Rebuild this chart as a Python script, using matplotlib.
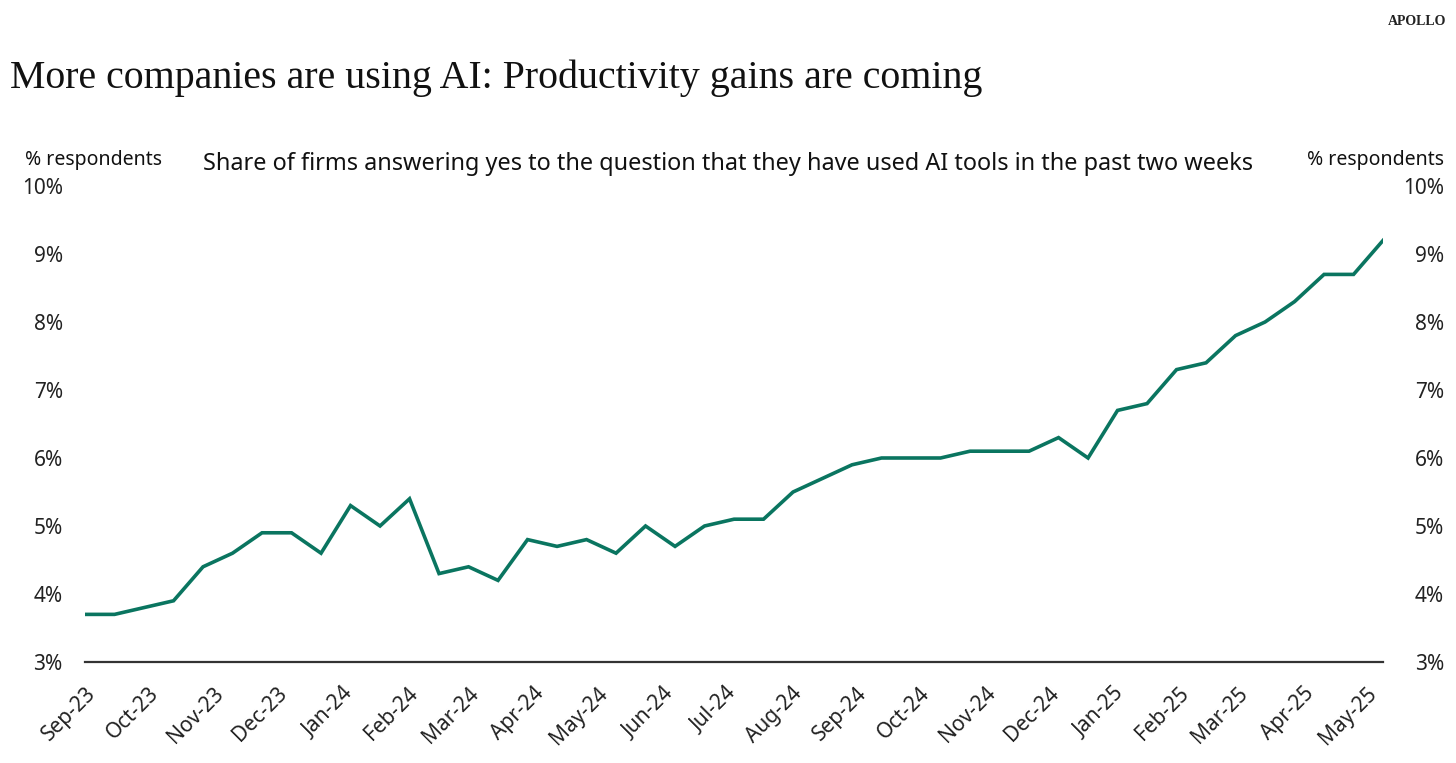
import pandas as pd
import matplotlib.pyplot as plt
import matplotlib.dates as mdates
from matplotlib.ticker import FuncFormatter

plt.rcParams['font.family'] = ['Noto Sans', 'DejaVu Sans']

# ====== 数据 ======
# biweekly survey waves, share of firms using AI (%)
start_date = '2023-09-01'
ai_share = [3.7, 3.7, 3.8, 3.9, 4.4, 4.6, 4.9, 4.9, 4.6, 5.3,
            5.0, 5.4, 4.3, 4.4, 4.2, 4.8, 4.7, 4.8, 4.6, 5.0,
            4.7, 5.0, 5.1, 5.1, 5.5, 5.7, 5.9, 6.0, 6.0, 6.0,
            6.1, 6.1, 6.1, 6.3, 6.0, 6.7, 6.8, 7.3, 7.4, 7.8,
            8.0, 8.3, 8.7, 8.7, 9.2]
dates = pd.date_range(start_date, periods=len(ai_share), freq='14D')
y_ticks = [3, 4, 5, 6, 7, 8, 9, 10]

title = 'More companies are using AI: Productivity gains are coming'
subtitle = ('Share of firms answering yes to the question that they have '
            'used AI tools in the past two weeks')

# ====== 图表 ======
fig = plt.figure(figsize=(14.56, 7.63), dpi=100)
ax = fig.add_axes([0.0584, 0.1324, 0.8915, 0.6238])

ax.plot(dates, ai_share, color='#0A7560', linewidth=2.6, solid_joinstyle='miter')

ax.set_xlim(dates[0], dates[-1])
ax.set_ylim(3, 10)
ax.set_yticks(y_ticks)
pct = FuncFormatter(lambda v, _: f'{v:.0f}%')
ax.yaxis.set_major_formatter(pct)

ax.xaxis.set_major_locator(mdates.MonthLocator())
ax.xaxis.set_major_formatter(mdates.DateFormatter('%b-%y'))
for lbl in ax.get_xticklabels():
    lbl.set_rotation(45)
    lbl.set_ha('right')
    lbl.set_rotation_mode('anchor')

for s in ['top', 'right', 'left']:
    ax.spines[s].set_visible(False)
ax.spines['bottom'].set_color('#333333')
ax.spines['bottom'].set_linewidth(1.6)

ax.tick_params(axis='x', length=0, pad=15, labelsize=15, colors='#222222')
ax.tick_params(axis='y', length=0, pad=16, labelsize=15, colors='#222222')

# right axis, same scale
ax2 = ax.twinx()
ax2.set_ylim(3, 10)
ax2.set_yticks(y_ticks)
ax2.yaxis.set_major_formatter(pct)
for s in ['top', 'right', 'left', 'bottom']:
    ax2.spines[s].set_visible(False)
ax2.tick_params(axis='y', length=0, pad=44, labelsize=15, colors='#222222')
for lbl in ax2.get_yticklabels():
    lbl.set_ha('right')

# ====== 文字 ======
fig.text(0.007, 0.885, title, family='Liberation Serif', fontsize=28.7,
         color='#111111', va='baseline')
fig.text(0.993, 0.972, 'APOLLO', family='Liberation Serif', fontsize=10,
         fontweight='bold', color='#222222', ha='right', va='center')
fig.text(0.017, 0.79, '% respondents', fontsize=14, color='#111111', va='center')
fig.text(0.992, 0.79, '% respondents', fontsize=14, color='#111111',
         ha='right', va='center')
fig.text(0.5003, 0.785, subtitle, fontsize=16.9, color='#111111',
         ha='center', va='center')

fig.savefig('out.png', dpi=100)
